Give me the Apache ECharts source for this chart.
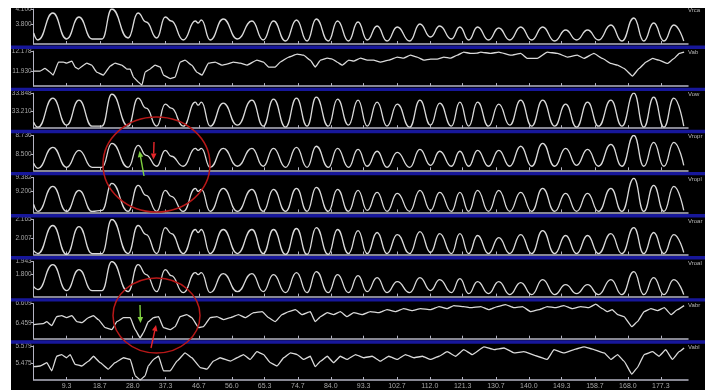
<!DOCTYPE html>
<html><head><meta charset="utf-8">
<script src="https://cdn.jsdelivr.net/npm/echarts@6/dist/echarts.min.js"></script>
<style>html,body{margin:0;padding:0;background:#fff}#c{width:713px;height:390px}</style>
</head><body><div id="c"></div>
<script>
// ---- data ----
const xTicks = [9.3, 18.7, 28.0, 37.3, 46.7, 56.0, 65.3, 74.7, 84.0, 93.3, 102.7, 112.0, 121.3, 130.7, 140.0, 149.3, 158.7, 168.0, 177.3];
const channels = ['Vrca', 'Vab', 'Vow', 'Vropr', 'Vropl', 'Vroar', 'Vroal', 'Vabr', 'Vabl'];
const yTop = [4.100, 12.178, 33.848, 8.736, 9.382, 2.165, 1.943, 6.609, 5.579];
const yMid = [3.800, 11.930, 33.210, 8.500, 9.200, 2.007, 1.800, 6.459, 5.475];
const yMin = [3.400, 11.744, 32.623, 8.302, 8.927, 1.874, 1.558, 6.333, 5.376];

// key times (troughs / peaks) of the pulsatile channels
const pulseT = [0, 1.2, 5.4, 9.3, 12.8, 16.5, 19.3, 22.1, 26.7, 29.5, 31.8, 34.8, 37.2, 38.9, 42.3, 45.7, 46.5, 47.4, 49.9, 53.6, 57.6, 61.7, 64.9, 67.8, 71.2, 74.3, 77.3, 79.9, 83.3, 85.9, 89.0, 91.7, 94.3, 97.1, 99.9, 102.8, 106.3, 109.2, 112.2, 114.8, 118.1, 120.5, 123.0, 125.5, 128.6, 131.5, 134.6, 137.7, 140.8, 143.9, 147.3, 150.4, 153.5, 156.6, 159.7, 163.2, 166.3, 169.7, 172.5, 175.3, 178.2, 181.0, 183.8];
const vrca = [3.62,3.48,4.02,3.50,3.94,3.50,3.50,4.10,3.52,4.02, 3.84,3.52,3.94,3.86,3.48,3.86,3.82,3.88,3.48,3.90, 3.50,3.86,3.48,3.86,3.46,3.88,3.46,3.90,3.46,3.86, 3.46,3.84,3.48,3.76,3.46,3.74,3.46,3.80,3.54,3.76, 3.50,3.74,3.48,3.74,3.48,3.72,3.48,3.74,3.48,3.74, 3.46,3.68,3.48,3.68,3.48,3.78,3.46,3.92,3.46,3.82, 3.46,3.78,3.46];
const vow = [32.833,32.658,33.673,32.728,33.603,32.693,32.693,33.813,32.693,33.673, 33.323,32.693,33.463,33.323,32.693,33.533,33.428,33.533,32.693,33.498, 32.728,33.603,32.693,33.638,32.658,33.673,32.693,33.708,32.693,33.638, 32.728,33.603,32.693,33.533,32.693,33.463,32.658,33.603,32.728,33.498, 32.693,33.533,32.693,33.533,32.693,33.463,32.728,33.603,32.693,33.603, 32.693,33.463,32.658,33.533,32.693,33.603,32.693,33.848,32.658,33.708, 32.658,33.673,32.693];
const vropr = [8.389,8.327,8.587,8.339,8.550,8.339,8.339,8.637,8.339,8.612, 8.488,8.352,8.550,8.476,8.352,8.575,8.550,8.575,8.339,8.575, 8.352,8.575,8.352,8.575,8.339,8.587,8.339,8.600,8.339,8.575, 8.339,8.562,8.352,8.538,8.339,8.525,8.339,8.562,8.364,8.538, 8.352,8.538,8.352,8.550,8.352,8.550,8.352,8.600,8.352,8.637, 8.352,8.575,8.364,8.562,8.352,8.624,8.352,8.736,8.352,8.649, 8.352,8.649,8.364];
const vropl = [9.031,8.940,9.265,8.940,9.213,8.940,8.953,9.304,8.940,9.278, 9.148,8.940,9.213,9.135,8.940,9.239,9.200,9.226,8.940,9.239, 8.940,9.226,8.940,9.226,8.940,9.239,8.940,9.252,8.940,9.226, 8.940,9.213,8.953,9.187,8.940,9.174,8.940,9.213,8.953,9.187, 8.940,9.187,8.940,9.213,8.940,9.213,8.940,9.187,8.940,9.239, 8.940,9.174,8.940,9.174,8.940,9.239,8.940,9.369,8.940,9.278, 8.940,9.265,8.953];
const vroar = [1.907,1.882,2.115,1.874,2.106,1.882,1.882,2.165,1.882,2.115, 2.040,1.882,2.098,2.048,1.882,2.082,2.057,2.082,1.882,2.082, 1.882,2.082,1.882,2.082,1.874,2.090,1.874,2.098,1.874,2.082, 1.882,2.073,1.882,2.057,1.882,2.040,1.882,2.065,1.891,2.048, 1.882,2.048,1.882,2.032,1.882,2.015,1.882,2.040,1.882,2.073, 1.882,2.032,1.882,2.032,1.882,2.048,1.882,2.098,1.882,2.057, 1.882,2.040,1.891];
const vroal = [1.668,1.635,1.910,1.624,1.855,1.624,1.624,1.943,1.613,1.910, 1.800,1.613,1.855,1.789,1.602,1.822,1.800,1.822,1.602,1.811, 1.613,1.811,1.613,1.800,1.602,1.822,1.602,1.833,1.602,1.800, 1.602,1.789,1.613,1.767,1.602,1.723,1.602,1.767,1.624,1.745, 1.602,1.756,1.591,1.723,1.591,1.723,1.580,1.712,1.580,1.745, 1.580,1.690,1.591,1.690,1.580,1.745,1.580,1.833,1.580,1.767, 1.580,1.745,1.580];

// noisy channels: [time, value]
const vab = [[0,11.930],[1.8,11.930],[3.2,11.963],[4.6,11.918],[5.5,11.880],[7.0,12.042],[8.4,12.042],[9.3,12.029],[10.8,12.054],[11.7,11.980],[12.6,11.955],[15.0,12.029],[16.4,12.004],[17.8,11.918],[19.7,11.880],[21.6,11.992],[23.0,12.029],[24.9,12.004],[26.3,11.955],[27.3,11.955],[28.2,11.856],[29.6,11.794],[30.6,11.756],[31.5,11.918],[32.9,11.955],[34.3,12.004],[35.8,11.980],[36.7,11.880],[38.6,11.837],[40.0,11.856],[41.4,12.042],[42.8,12.066],[44.7,12.004],[46.1,11.918],[47.6,11.880],[49.4,12.029],[51.3,12.042],[53.2,12.004],[54.6,12.017],[56.5,12.042],[58.4,12.029],[60.3,12.004],[63.1,12.066],[65.0,12.042],[66.4,11.980],[68.3,11.980],[69.7,12.042],[72.1,12.104],[74.5,12.141],[76.3,12.128],[78.2,12.066],[79.6,11.980],[81.1,12.066],[83.0,12.091],[84.4,12.079],[85.8,12.042],[87.2,12.004],[89.1,12.066],[90.5,12.054],[92.4,12.091],[94.3,12.066],[96.1,12.066],[98.0,12.042],[100.4,12.066],[102.8,12.104],[104.6,12.091],[106.5,12.128],[108.4,12.104],[110.3,12.066],[112.2,12.079],[114.1,12.079],[116.0,12.104],[117.9,12.091],[119.8,12.128],[121.6,12.166],[123.5,12.149],[125.4,12.153],[126.4,12.166],[129.2,12.149],[131.5,12.166],[134.9,12.128],[137.7,12.149],[139.6,12.087],[142.4,12.087],[145.2,12.166],[148.1,12.149],[150.9,12.104],[153.7,12.128],[155.6,12.087],[158.4,12.149],[160.8,12.087],[163.2,12.025],[165.1,12.004],[166.9,11.963],[169.3,11.868],[171.2,11.963],[173.1,12.042],[175.0,12.087],[176.8,12.066],[179.2,12.025],[181.1,12.087],[182.5,12.149],[183.9,12.166]];
const vabr = [[0,6.444],[2.7,6.452],[3.7,6.467],[5.1,6.436],[6.5,6.507],[7.9,6.515],[9.3,6.499],[10.8,6.515],[12.2,6.467],[13.6,6.459],[15.5,6.499],[16.9,6.515],[18.3,6.483],[20.2,6.420],[22.1,6.404],[23.5,6.467],[25.4,6.499],[27.3,6.499],[28.7,6.404],[30.1,6.339],[31.0,6.380],[32.4,6.467],[33.9,6.499],[35.3,6.507],[36.7,6.420],[38.6,6.404],[40.0,6.428],[41.4,6.507],[43.3,6.523],[44.7,6.499],[46.6,6.420],[48.0,6.428],[49.9,6.499],[51.8,6.507],[53.7,6.483],[55.6,6.499],[57.9,6.523],[59.8,6.499],[62.2,6.538],[64.6,6.546],[66.4,6.499],[68.3,6.467],[70.2,6.523],[72.1,6.546],[74.0,6.562],[75.9,6.523],[78.2,6.546],[79.6,6.467],[81.1,6.507],[83.0,6.538],[84.8,6.523],[86.7,6.546],[88.6,6.507],[90.5,6.538],[92.9,6.523],[95.2,6.546],[97.6,6.538],[99.9,6.562],[102.3,6.546],[104.6,6.570],[107.0,6.554],[109.4,6.570],[112.2,6.562],[114.6,6.586],[116.9,6.570],[118.8,6.594],[121.6,6.586],[123.5,6.578],[126.4,6.586],[128.7,6.562],[131.1,6.586],[133.4,6.602],[135.8,6.578],[138.2,6.586],[140.5,6.546],[142.9,6.562],[145.2,6.586],[147.6,6.578],[149.9,6.594],[152.3,6.570],[154.7,6.586],[157.0,6.578],[158.9,6.605],[160.8,6.570],[162.2,6.546],[163.6,6.562],[165.1,6.523],[166.9,6.507],[169.1,6.428],[170.7,6.467],[172.6,6.546],[174.5,6.570],[176.4,6.554],[178.3,6.578],[180.2,6.523],[182.0,6.562],[183.9,6.594]];
const vabl = [[0,5.455],[1.8,5.459],[3.7,5.479],[5.1,5.430],[6.5,5.517],[7.9,5.527],[9.3,5.508],[10.3,5.527],[11.7,5.469],[13.6,5.459],[15.5,5.488],[16.9,5.517],[18.8,5.479],[21.1,5.440],[23.0,5.479],[25.4,5.508],[27.3,5.498],[28.7,5.401],[30.1,5.376],[31.5,5.401],[32.4,5.459],[33.9,5.498],[35.3,5.517],[36.7,5.430],[38.6,5.430],[40.5,5.488],[42.8,5.537],[44.7,5.508],[47.1,5.450],[49.0,5.440],[50.8,5.488],[52.7,5.508],[55.6,5.488],[57.5,5.508],[59.3,5.527],[61.2,5.498],[63.1,5.544],[65.0,5.527],[66.9,5.479],[68.8,5.459],[70.7,5.508],[72.6,5.537],[74.5,5.527],[76.3,5.498],[78.2,5.517],[79.6,5.455],[81.1,5.488],[83.0,5.517],[84.8,5.479],[86.7,5.517],[88.6,5.498],[91.0,5.527],[93.3,5.508],[95.7,5.517],[98.0,5.488],[100.4,5.517],[102.8,5.498],[105.1,5.527],[107.5,5.508],[109.9,5.517],[112.2,5.498],[114.6,5.517],[116.9,5.544],[119.3,5.517],[121.6,5.556],[124.0,5.527],[127.3,5.573],[130.1,5.556],[133.0,5.566],[135.8,5.537],[138.6,5.544],[142.4,5.517],[145.2,5.498],[147.1,5.556],[149.9,5.537],[152.8,5.556],[155.6,5.573],[158.4,5.556],[161.3,5.537],[163.2,5.498],[165.1,5.527],[166.9,5.488],[169.1,5.411],[170.7,5.450],[172.6,5.527],[175.0,5.544],[176.8,5.517],[178.7,5.556],[180.6,5.498],[182.5,5.544],[183.9,5.566]];

// ---- chart ----
const pulseData = {Vrca: vrca, Vow: vow, Vropr: vropr, Vropl: vropl, Vroar: vroar, Vroal: vroal};
const noiseData = {Vab: vab, Vabr: vabr, Vabl: vabl};
const FONT = '"Liberation Sans", Arial, sans-serif';
const axisColor = '#b4b4c2', labelColor = '#a6a6a6', traceColor = '#dadada';
const top0 = 9, pitch = 42.1, ph = 35, gLeft = 33.7, gRight = 25;

const grids = [], xAxes = [], yAxes = [], series = [], graphics = [];
channels.forEach((name, i) => {
  const top = top0 + pitch * i;
  const last = i === channels.length - 1;
  grids.push({left: gLeft, right: gRight, top: top, height: ph});
  xAxes.push({
    type: 'value', gridIndex: i, min: 0, max: 185,
    axisLine: {show: true, onZero: false, lineStyle: {color: axisColor, width: 1.5}},
    axisTick: {show: true, inside: true, length: 3, customValues: xTicks, lineStyle: {color: axisColor}},
    axisLabel: {show: last, customValues: xTicks, formatter: v => v.toFixed(1), fontSize: 7, fontFamily: FONT, color: labelColor, margin: 3},
    splitLine: {show: false}
  });
  yAxes.push({
    type: 'value', gridIndex: i, min: yMin[i], max: yTop[i],
    axisLine: {show: true, lineStyle: {color: axisColor, width: 1}},
    axisTick: {show: true, length: 3, customValues: [yMid[i], yTop[i]], lineStyle: {color: axisColor}},
    axisLabel: {customValues: [yMid[i], yTop[i]], formatter: v => v.toFixed(3), fontSize: 6.5, fontFamily: FONT, color: labelColor, margin: 2},
    splitLine: {show: false}
  });
  let data;
  if (pulseData[name]) data = pulseT.map((t, k) => [t, pulseData[name][k]]);
  else data = noiseData[name];
  series.push({
    type: 'line', name: name, xAxisIndex: i, yAxisIndex: i, data: data,
    showSymbol: false, smooth: pulseData[name] ? 0.5 : 0.1, smoothMonotone: 'x',
    lineStyle: {color: traceColor, width: 1.3}, animation: false, silent: true
  });
  // channel name on the right
  graphics.push({type: 'text', x: 688, y: top + 1.5, z: 30,
    style: {text: name, fill: '#b8b8b8', fontSize: 6, fontFamily: FONT, verticalAlign: 'middle'}});
  // blue separator band
  if (!last) graphics.push({type: 'rect', shape: {x: 11, y: top + ph + 1.6, width: 694, height: 3.4}, style: {fill: '#17179a'}, z: 5});
});

function arrow(x1, y1, x2, y2, color) {
  const a = Math.atan2(y2 - y1, x2 - x1), L = 6, w = 2.8;
  const bx = x2 - L * Math.cos(a), by = y2 - L * Math.sin(a);
  const nx = -Math.sin(a), ny = Math.cos(a);
  return [
    {type: 'line', shape: {x1: x1, y1: y1, x2: bx, y2: by}, style: {stroke: color, lineWidth: 1.4}, z: 40},
    {type: 'polygon', shape: {points: [[x2, y2], [bx + w * nx, by + w * ny], [bx - w * nx, by - w * ny]]}, style: {fill: color}, z: 40}
  ];
}
graphics.push({type: 'ellipse', shape: {cx: 156.5, cy: 164.5, rx: 53.5, ry: 47.5}, style: {fill: 'none', stroke: '#b81818', lineWidth: 1.5}, z: 35});
graphics.push({type: 'ellipse', shape: {cx: 156.5, cy: 315.5, rx: 43.5, ry: 37.5}, style: {fill: 'none', stroke: '#b81818', lineWidth: 1.5}, z: 35});
graphics.push(...arrow(144, 176, 139.5, 151, '#7fd040'));
graphics.push(...arrow(154, 142, 153.5, 159.5, '#e8262a'));
graphics.push(...arrow(140, 305, 140.5, 323, '#7fd040'));
graphics.push(...arrow(151, 348, 156, 325, '#e8262a'));
// white page margins around the black recording
graphics.push({type: 'rect', shape: {x: 0, y: 0, width: 713, height: 8}, style: {fill: '#fff'}, z: 100});
graphics.push({type: 'rect', shape: {x: 0, y: 0, width: 11, height: 390}, style: {fill: '#fff'}, z: 100});
graphics.push({type: 'rect', shape: {x: 705, y: 0, width: 8, height: 390}, style: {fill: '#fff'}, z: 100});

const chart = echarts.init(document.getElementById('c'), null, {renderer: 'canvas'});
chart.setOption({
  backgroundColor: '#000', animation: false,
  grid: grids, xAxis: xAxes, yAxis: yAxes, series: series, graphic: graphics
});
</script>
</body></html>
